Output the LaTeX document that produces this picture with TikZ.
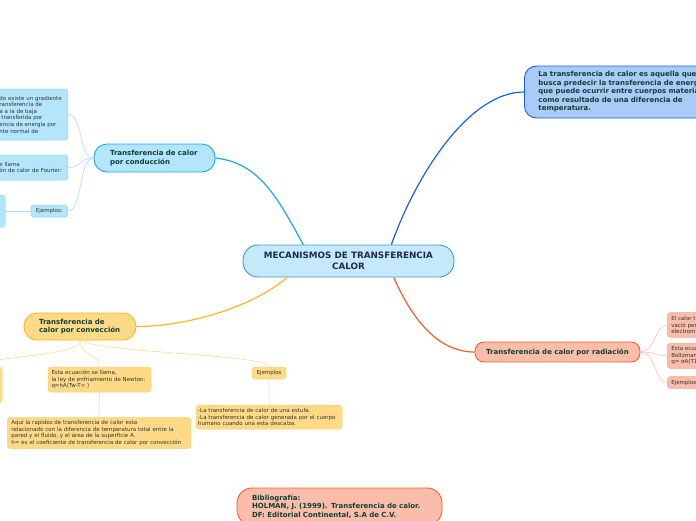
\documentclass[tikz,border=0pt]{standalone}
\usepackage{fontspec}
\setmainfont{DejaVu Sans}

\definecolor{titletext}{HTML}{1B2B4F}
\definecolor{deeptext}{HTML}{123F33}
\definecolor{leaftext}{HTML}{333333}
\definecolor{centerfill}{HTML}{C6E9FA}
\definecolor{centerline}{HTML}{3A9BD9}
\definecolor{topfill}{HTML}{A8CBF7}
\definecolor{topline}{HTML}{1A62D6}
\definecolor{condfill}{HTML}{B3E5FB}
\definecolor{condline}{HTML}{1CA6E9}
\definecolor{condleaf}{HTML}{8CD3F4}
\definecolor{condtwig}{HTML}{A8DDF7}
\definecolor{convfill}{HTML}{FEDA86}
\definecolor{convline}{HTML}{FBB822}
\definecolor{convleaf}{HTML}{FCCF70}
\definecolor{convtwig}{HTML}{FDDB94}
\definecolor{radfill}{HTML}{F9BDAA}
\definecolor{radline}{HTML}{F0602E}
\definecolor{radleaf}{HTML}{F6A58F}
\definecolor{radtwig}{HTML}{F9C3B2}

\begin{document}
\begin{tikzpicture}[x=1pt,y=-1pt,
  topic/.style={draw=#1,line width=0.9pt,inner ysep=0pt,text=deeptext,
    font=\bfseries\fontsize{7}{8.5}\selectfont},
  leaf/.style={draw=#1,line width=0.5pt,rounded corners=3pt,inner xsep=4pt,inner ysep=1pt,
    align=left,text=leaftext,font=\fontsize{5.5}{6.6}\selectfont},
  branch/.style={line width=1.2pt},
  twig/.style={line width=0.6pt}]
  \useasboundingbox (0,0) rectangle (696,520);
  \clip (0,0) rectangle (696,520);
  % centre and main topics
  \node[topic=centerline,fill=centerfill,rounded corners=15pt,minimum width=211pt,minimum height=32pt,
    align=center,text=titletext,font=\bfseries\fontsize{8.8}{11}\selectfont] (central) at (348.5,261)
    {MECANISMOS DE TRANSFERENCIA\\CALOR};
  \node[topic=topline,fill=topfill,rounded corners=12pt,anchor=west,minimum height=52pt,
    text width=190pt,inner xsep=14pt,align=left] (defn) at (524,92)
    {La transferencia de calor es aquella que\\busca predecir la transferencia de energ\\que puede ocurrir entre cuerpos materia\\como resultado de una diferencia de\\temperatura.};
  \node[topic=condline,fill=condfill,rounded corners=13pt,minimum height=28pt,
    text width=89pt,inner xsep=16pt,align=left] (cond) at (154.5,158) {Transferencia de calor\\por conducción};
  \node[topic=convline,fill=convfill,rounded corners=13pt,minimum height=27pt,
    text width=82pt,inner xsep=15pt,align=left] (conv) at (80,326.5) {Transferencia de\\calor por convección};
  \node[topic=radline,fill=radfill,rounded corners=9pt,minimum width=165pt,minimum height=20pt,
    align=center] (rad) at (557.5,352) {Transferencia de calor por radiación};
  \node[topic=radline,fill=radfill,rounded corners=15pt,minimum height=37pt,
    text width=175pt,inner xsep=15pt,align=left] (biblio) at (339.5,506.5)
    {Bibliografía:\\HOLMAN, J. (1999). Transferencia de calor.\\DF: Editorial Continental, S.A de C.V.};
  % main branches
  \draw[branch,condline] (central.160) .. controls +(-25,-45) and +(45,5) .. (cond.east);
  \draw[branch,topline] (central.21) .. controls +(25,-70) and +(-55,0) .. (defn.west);
  \draw[branch,convline] (central.195) .. controls +(-35,30) and +(50,0) .. (conv.east);
  \draw[branch,radline] (central.340) .. controls +(20,45) and +(-35,0) .. (rad.west);
  % conduccion leaves
  \node[leaf=condleaf,fill=condfill,text width=65pt,inner xsep=3.5pt,minimum height=51pt] (c1) at (31.9,114.5)
    {do existe un gradiente\\ransferencia de\\a a la de baja\\\hspace*{2pt}transferida por\\encia de energía por\\nte normal de};
  \node[leaf=condleaf,fill=condfill,text width=65pt,inner xsep=3.5pt,minimum height=25pt] (c2) at (31.9,167.5)
    {e llama\\ón de calor de Fourier:};
  \node[leaf=condleaf,fill=condfill,minimum width=36.7pt,minimum height=12pt,inner sep=0pt,align=center] (cej) at (49.3,211) {Ejemplos:};
  \node[leaf=condleaf,fill=condfill,minimum width=45pt,minimum height=32pt] (c3) at (-17.3,211) {};
  \foreach \n in {c1,c2,cej}
    \draw[twig,condtwig] (cond.west) .. controls +(-15,0) and +(15,0) .. (\n.east);
  \draw[twig,condtwig] (cej.west) -- (c3.east);
  % conveccion leaves
  \node[leaf=convleaf,fill=convfill,minimum width=104pt,minimum height=36pt] (v0) at (-50,385) {};
  \node[leaf=convleaf,fill=convfill,text width=96pt,inner xsep=3.5pt,minimum height=25pt] (v1) at (99.5,379.5)
    {Esta ecuación se llama,\\la ley de enfriamiento de Newton:\\q=hA(Tw-T∞ )};
  \node[leaf=convleaf,fill=convfill,text width=175pt,inner xsep=4.2pt,minimum height=31pt] (v2) at (99,433)
    {Aquí la rapidez de transferencia de calor esta\\relacionado con la diferencia de temperatura total entre la\\pared y el fluido, y el área de la superficie A.\\h= es el coeficiente de transferencia de calor por convección};
  \node[leaf=convleaf,fill=convfill,minimum width=34pt,minimum height=12pt,inner sep=0pt,align=center] (v3) at (269,373) {Ejemplos};
  \node[leaf=convleaf,fill=convfill,text width=142pt,inner xsep=2pt,minimum height=24pt] (v4) at (269.2,417.2)
    {-La transferencia de calor de una estufa.\\-La transferencia de calor generada por el cuerpo\\humano cuando una esta descalza.};
  \draw[twig,convtwig] (conv.south) .. controls +(0,14) and +(70,-12) .. (v0.north);
  \draw[twig,convtwig] (conv.south) .. controls +(0,14) and +(0,-12) .. (v1.north);
  \draw[twig,convtwig] (conv.south) .. controls +(20,12) and +(0,-12) .. (v3.north);
  \draw[twig,convtwig] (v1.south) -- (v2.north);
  \draw[twig,convtwig] (v3.south) -- (v4.north);
  % radiacion leaves
  \node[leaf=radleaf,fill=radfill,anchor=west,text width=60pt,minimum height=24.6pt] (r1) at (667,325)
    {El calor t\\vació per\\electroma};
  \node[leaf=radleaf,fill=radfill,anchor=west,text width=60pt,minimum height=25pt] (r2) at (667,355.8)
    {Esta ecua\\Boltzman\\q= σA(T1};
  \node[leaf=radleaf,fill=radfill,anchor=west,text width=60pt,minimum height=11.6pt,inner ysep=0pt] (r3) at (667,382.5)
    {Ejemplos};
  \foreach \n in {r1,r2,r3}
    \draw[twig,radtwig] (rad.east) .. controls +(15,0) and +(-12,0) .. (\n.west);
\end{tikzpicture}
\end{document}
